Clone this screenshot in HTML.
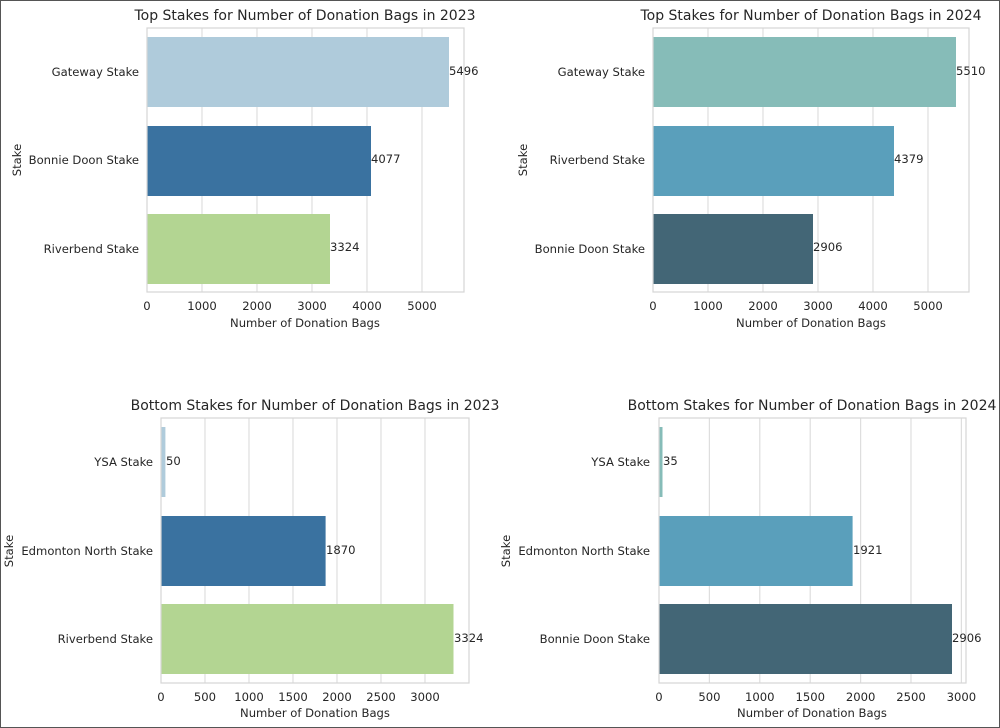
<!DOCTYPE html>
<html><head><meta charset="utf-8"><style>
html,body{margin:0;padding:0;background:#fff}
svg{display:block;font-family:"DejaVu Sans","Liberation Sans",sans-serif;fill:#262626}
.g{stroke:#dedede;stroke-width:1.2}
.f{fill:none;stroke:#d6d6d6;stroke-width:1.2}
.t{font-size:11.6px}
.ti{font-size:14px}
</style></head><body>
<svg width="1000" height="728" viewBox="0 0 1000 728">
<rect x="0.5" y="0.5" width="999" height="727" fill="#fff" stroke="#555"/>

<g>
<text class="ti" x="305" y="20" text-anchor="middle">Top Stakes for Number of Donation Bags in 2023</text>
<line class="g" x1="202" y1="28" x2="202" y2="292"/><line class="g" x1="257" y1="28" x2="257" y2="292"/><line class="g" x1="312" y1="28" x2="312" y2="292"/><line class="g" x1="367" y1="28" x2="367" y2="292"/><line class="g" x1="422" y1="28" x2="422" y2="292"/>
<rect x="147" y="37" width="302" height="70" fill="#afcbdb"/>
<rect x="147" y="126" width="224" height="70" fill="#3a72a0"/>
<rect x="147" y="214" width="183" height="70" fill="#b3d592"/>
<rect class="f" x="147" y="28" width="317" height="264"/>
<g class="t"><text x="449" y="75">5496</text><text x="371" y="163">4077</text><text x="330" y="251">3324</text>
<g text-anchor="end"><text x="139" y="76">Gateway Stake</text><text x="139" y="164">Bonnie Doon Stake</text><text x="139" y="253">Riverbend Stake</text></g>
<g text-anchor="middle"><text x="147" y="310">0</text><text x="202" y="310">1000</text><text x="257" y="310">2000</text><text x="312" y="310">3000</text><text x="367" y="310">4000</text><text x="422" y="310">5000</text>
<text x="305" y="327">Number of Donation Bags</text>
<text transform="translate(21,160) rotate(-90)">Stake</text></g></g>
</g>

<g>
<text class="ti" x="811" y="20" text-anchor="middle">Top Stakes for Number of Donation Bags in 2024</text>
<line class="g" x1="708" y1="28" x2="708" y2="292"/><line class="g" x1="763" y1="28" x2="763" y2="292"/><line class="g" x1="818" y1="28" x2="818" y2="292"/><line class="g" x1="873" y1="28" x2="873" y2="292"/><line class="g" x1="928" y1="28" x2="928" y2="292"/>
<rect x="653" y="37" width="303" height="70" fill="#86bcb8"/>
<rect x="653" y="126" width="241" height="70" fill="#5a9fbb"/>
<rect x="653" y="214" width="160" height="70" fill="#436676"/>
<rect class="f" x="653" y="28" width="316" height="264"/>
<g class="t"><text x="956" y="75">5510</text><text x="894" y="163">4379</text><text x="813" y="251">2906</text>
<g text-anchor="end"><text x="645" y="76">Gateway Stake</text><text x="645" y="164">Riverbend Stake</text><text x="645" y="253">Bonnie Doon Stake</text></g>
<g text-anchor="middle"><text x="653" y="310">0</text><text x="708" y="310">1000</text><text x="763" y="310">2000</text><text x="818" y="310">3000</text><text x="873" y="310">4000</text><text x="928" y="310">5000</text>
<text x="811" y="327">Number of Donation Bags</text>
<text transform="translate(527,160) rotate(-90)">Stake</text></g></g>
</g>

<g>
<text class="ti" x="315" y="410" text-anchor="middle">Bottom Stakes for Number of Donation Bags in 2023</text>
<line class="g" x1="205" y1="418" x2="205" y2="683"/><line class="g" x1="249" y1="418" x2="249" y2="683"/><line class="g" x1="293" y1="418" x2="293" y2="683"/><line class="g" x1="337" y1="418" x2="337" y2="683"/><line class="g" x1="381" y1="418" x2="381" y2="683"/><line class="g" x1="425" y1="418" x2="425" y2="683"/>
<rect x="161" y="427" width="4.4" height="70" fill="#afcbdb"/>
<rect x="161" y="516" width="164.6" height="70" fill="#3a72a0"/>
<rect x="161" y="604" width="292.5" height="70" fill="#b3d592"/>
<rect class="f" x="161" y="418" width="308" height="265"/>
<g class="t"><text x="166" y="465">50</text><text x="326" y="554">1870</text><text x="454" y="642">3324</text>
<g text-anchor="end"><text x="153" y="466">YSA Stake</text><text x="153" y="555">Edmonton North Stake</text><text x="153" y="643">Riverbend Stake</text></g>
<g text-anchor="middle"><text x="161" y="701">0</text><text x="205" y="701">500</text><text x="249" y="701">1000</text><text x="293" y="701">1500</text><text x="337" y="701">2000</text><text x="381" y="701">2500</text><text x="425" y="701">3000</text>
<text x="315" y="717">Number of Donation Bags</text>
<text transform="translate(13,551) rotate(-90)">Stake</text></g></g>
</g>

<g>
<text class="ti" x="812" y="410" text-anchor="middle">Bottom Stakes for Number of Donation Bags in 2024</text>
<line class="g" x1="709.4" y1="418" x2="709.4" y2="683"/><line class="g" x1="759.8" y1="418" x2="759.8" y2="683"/><line class="g" x1="810.2" y1="418" x2="810.2" y2="683"/><line class="g" x1="860.6" y1="418" x2="860.6" y2="683"/><line class="g" x1="911" y1="418" x2="911" y2="683"/><line class="g" x1="961.4" y1="418" x2="961.4" y2="683"/>
<rect x="659" y="427" width="3.5" height="70" fill="#86bcb8"/>
<rect x="659" y="516" width="193.6" height="70" fill="#5a9fbb"/>
<rect x="659" y="604" width="293" height="70" fill="#436676"/>
<rect class="f" x="659" y="418" width="307" height="265"/>
<g class="t"><text x="663" y="465">35</text><text x="853" y="554">1921</text><text x="952" y="642">2906</text>
<g text-anchor="end"><text x="650" y="466">YSA Stake</text><text x="650" y="555">Edmonton North Stake</text><text x="650" y="643">Bonnie Doon Stake</text></g>
<g text-anchor="middle"><text x="659" y="701">0</text><text x="709.4" y="701">500</text><text x="759.8" y="701">1000</text><text x="810.2" y="701">1500</text><text x="860.6" y="701">2000</text><text x="911" y="701">2500</text><text x="961.4" y="701">3000</text>
<text x="812" y="717">Number of Donation Bags</text>
<text transform="translate(510,551) rotate(-90)">Stake</text></g></g>
</g>
</svg>
</body></html>
